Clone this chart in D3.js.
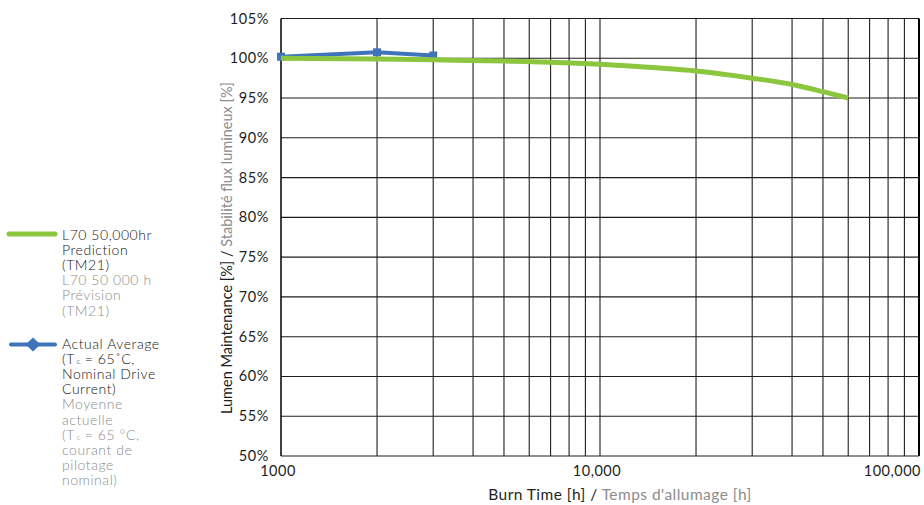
<!DOCTYPE html>
<html>
<head>
<meta charset="utf-8">
<script src="https://cdn.jsdelivr.net/npm/d3@7"></script>
<style>
  html, body { margin: 0; padding: 0; background: #fff; }
  svg { display: block; font-family: Lato, "Open Sans", sans-serif; }
</style>
</head>
<body>
<svg id="chart" width="924" height="505"></svg>
<script>
// Burn time (hours) and lumen maintenance (%) for the TM21 prediction curve
const predHours = [1000, 2000, 3000, 5000, 7000, 10000, 15000, 20000, 30000, 40000, 50000, 60000];
const predValues = [100.0, 99.9, 99.8, 99.65, 99.5, 99.25, 98.8, 98.4, 97.5, 96.7, 95.8, 95.0];

// Measured average lumen maintenance
const actualHours = [1000, 2000, 3000];
const actualValues = [100.2, 100.75, 100.35];

// Axis ticks
const yTicks = [50, 55, 60, 65, 70, 75, 80, 85, 90, 95, 100, 105];
const xTickValues = [1000, 10000, 100000];
const xTickLabels = ["1000", "10,000", "100,000"];
const xGridValues = [2000, 3000, 4000, 5000, 6000, 7000, 8000, 9000,
                     10000, 20000, 30000, 40000, 50000, 60000, 70000, 80000, 90000];

const GREEN = "#8cc63f";
const BLUE = "#3f74ba";
const DARK = "#1e1e1e";
const GREY = "#8c8c8c";

const svg = d3.select("#chart");

const plotL = 281, plotR = 919, plotT = 18.5, plotB = 456;
const x = d3.scaleLog().domain([1000, 100000]).range([plotL, plotR]);
const y = d3.scaleLinear().domain([50, 105]).range([plotB, plotT]);

// Horizontal grid lines
svg.append("g").selectAll("line").data(yTicks).join("line")
  .attr("x1", plotL).attr("x2", plotR)
  .attr("y1", d => y(d)).attr("y2", d => y(d))
  .attr("stroke", DARK).attr("stroke-width", 1.1);

// Vertical grid lines (log minor/major)
svg.append("g").selectAll("line").data(xGridValues).join("line")
  .attr("x1", d => x(d)).attr("x2", d => x(d))
  .attr("y1", plotT).attr("y2", plotB)
  .attr("stroke", DARK).attr("stroke-width", 1.1);

// Plot frame: left axis and heavier right edge
svg.append("line").attr("x1", plotL).attr("x2", plotL).attr("y1", plotT).attr("y2", plotB)
  .attr("stroke", "#000").attr("stroke-width", 1.5);
svg.append("line").attr("x1", plotR).attr("x2", plotR).attr("y1", plotT).attr("y2", plotB)
  .attr("stroke", "#000").attr("stroke-width", 2);

// Y tick labels
svg.append("g").selectAll("text").data(yTicks).join("text")
  .attr("x", plotL - 12).attr("y", d => y(d) + 5)
  .attr("text-anchor", "end")
  .attr("font-size", 14.5).attr("letter-spacing", 0.6).attr("fill", DARK)
  .text(d => d + "%");

// X tick labels
svg.append("g").selectAll("text").data(xTickValues).join("text")
  .attr("x", (d, i) => i === xTickValues.length - 1 ? 921 : x(d) - 3)
  .attr("y", 476)
  .attr("text-anchor", (d, i) => i === xTickValues.length - 1 ? "end" : "middle")
  .attr("font-size", 14.5).attr("letter-spacing", 0.5).attr("fill", DARK)
  .text((d, i) => xTickLabels[i]);

// Axis titles
const xt = svg.append("text").attr("x", 620).attr("y", 500)
  .attr("text-anchor", "middle").attr("font-size", 15.5).attr("letter-spacing", 0.45);
xt.append("tspan").attr("fill", DARK).text("Burn Time [h] / ");
xt.append("tspan").attr("fill", GREY).text("Temps d'allumage [h]");

const yt = svg.append("text")
  .attr("transform", "translate(232,248) rotate(-90)")
  .attr("text-anchor", "middle").attr("font-size", 14.5);
yt.append("tspan").attr("fill", DARK).text("Lumen Maintenance [%] / ");
yt.append("tspan").attr("fill", GREY).text("Stabilité flux lumineux [%]");

// Series lines
const line = d3.line().x(d => x(d[0])).y(d => y(d[1]));

svg.append("path")
  .datum(actualHours.map((h, i) => [h, actualValues[i]]))
  .attr("d", line)
  .attr("fill", "none").attr("stroke", BLUE).attr("stroke-width", 4)
  .attr("stroke-linejoin", "round");

svg.append("g").selectAll("rect")
  .data(actualHours.map((h, i) => [h, actualValues[i]]))
  .join("rect")
  .attr("x", d => x(d[0]) - 4).attr("y", d => y(d[1]) - 4)
  .attr("width", 8).attr("height", 8)
  .attr("fill", BLUE);

svg.append("path")
  .datum(predHours.map((h, i) => [h, predValues[i]]))
  .attr("d", line.curve(d3.curveMonotoneX))
  .attr("fill", "none").attr("stroke", GREEN).attr("stroke-width", 5)
  .attr("stroke-linecap", "butt");

// Legend
const legend = svg.append("g");
legend.append("line").attr("x1", 9).attr("x2", 55).attr("y1", 234).attr("y2", 234)
  .attr("stroke", GREEN).attr("stroke-width", 5).attr("stroke-linecap", "round");

// Each legend line is a list of runs; subscript runs are set as their own small text
function legendText(lines, y0, color) {
  lines.forEach((l, i) => {
    let cx = 62;
    const ly = y0 + i * 15.2;
    l.forEach(part => {
      const t = legend.append("text").attr("x", cx).attr("y", part.sub ? ly : ly)
        .attr("font-size", part.sub ? 8.5 : 14).attr("font-weight", 300)
        .attr("letter-spacing", part.sub ? 0 : 0.55).attr("fill", color)
        .text(part.t);
      cx += t.node().getComputedTextLength() + (part.sub ? 4 : 2);
    });
  });
}

legendText([[{t: "L70 50,000hr"}], [{t: "Prediction"}], [{t: "(TM21)"}]], 239.5, "#141414");
legendText([[{t: "L70 50 000 h"}], [{t: "Prévision"}], [{t: "(TM21)"}]], 285.2, GREY);

legend.append("line").attr("x1", 11).attr("x2", 55).attr("y1", 344.5).attr("y2", 344.5)
  .attr("stroke", BLUE).attr("stroke-width", 4).attr("stroke-linecap", "round");
legend.append("path")
  .attr("d", "M33,337.5 L40.5,344.5 L33,351.5 L25.5,344.5 Z")
  .attr("fill", BLUE);

legendText([
  [{t: "Actual Average"}],
  [{t: "(T"}, {t: "c", sub: true}, {t: "= 65˚C,"}],
  [{t: "Nominal Drive"}],
  [{t: "Current)"}]
], 348.5, "#141414");
legendText([
  [{t: "Moyenne"}],
  [{t: "actuelle"}],
  [{t: "(T"}, {t: "c", sub: true}, {t: "= 65 °C,"}],
  [{t: "courant de"}],
  [{t: "pilotage"}],
  [{t: "nominal)"}]
], 409.3, GREY);
</script>
</body>
</html>
